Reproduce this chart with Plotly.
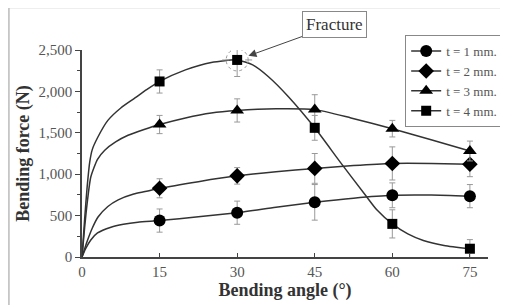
import plotly.graph_objects as go

# Measured data points (bending angle in degrees, force in N)
angles = [15, 30, 45, 60, 75]
series_names = ["t = 1 mm.", "t = 2 mm.", "t = 3 mm.", "t = 4 mm."]
force_t1 = [440, 535, 660, 745, 735]
force_t2 = [830, 980, 1070, 1130, 1120]
force_t3 = [1600, 1770, 1780, 1550, 1280]
force_t4 = [2120, 2380, 1560, 400, 100]
err_t1 = [140, 140, 215, 150, 140]
err_t2 = [115, 100, 180, 200, 150]
err_t3 = [110, 140, 180, 100, 120]
err_t4 = [140, 200, 150, 170, 110]

# Fitted curves
curve_x_t1 = [0, 0.7, 1.7, 3, 5.6, 8, 10.8, 15, 22.5, 30, 37.5, 45, 52.5, 60, 67.5, 75]
curve_y_t1 = [0, 100, 205, 290, 360, 395, 420, 440, 485, 535, 600, 660, 710, 745, 748, 735]
curve_x_t2 = [0, 1, 2, 3.1, 5, 7, 10, 12.2, 15, 22.5, 30, 37.5, 45, 52.5, 60, 67.5, 75]
curve_y_t2 = [0, 190, 350, 483, 610, 690, 760, 790, 830, 910, 980, 1030, 1070, 1105, 1130, 1130, 1120]
curve_x_t3 = [0, 0.5, 1, 1.7, 3, 4.4, 6.5, 8.9, 12, 15, 20, 25, 30, 37.5, 45, 52, 60, 67.5, 75]
curve_y_t3 = [0, 350, 650, 966, 1180, 1290, 1390, 1470, 1540, 1600, 1680, 1740, 1770, 1790, 1780, 1680, 1550, 1415, 1280]
curve_x_t4 = [0, 0.5, 1, 1.5, 2, 3, 5, 7.5, 10, 12.5, 15, 20, 25, 30, 33, 36, 40, 45, 50, 55, 57, 60, 63, 66, 70, 75]
curve_y_t4 = [0, 450, 850, 1150, 1300, 1440, 1650, 1800, 1910, 2020, 2120, 2260, 2350, 2380, 2320, 2180, 1930, 1560, 1140, 730, 570, 400, 280, 200, 140, 100]

x_ticks = [0, 15, 30, 45, 60, 75]
y_ticks = [0, 500, 1000, 1500, 2000, 2500]

FONT = "Liberation Serif"
LINE = "#333333"

series = [
    (series_names[0], force_t1, err_t1, curve_x_t1, curve_y_t1, "circle", 12),
    (series_names[1], force_t2, err_t2, curve_x_t2, curve_y_t2, "diamond", 12),
    (series_names[2], force_t3, err_t3, curve_x_t3, curve_y_t3, "triangle-up", 12),
    (series_names[3], force_t4, err_t4, curve_x_t4, curve_y_t4, "square", 10),
]

fig = go.Figure()
for name, fy, ey, cx, cy, sym, sz in series:
    fig.add_trace(go.Scatter(
        x=cx, y=cy, mode="lines", line=dict(color=LINE, width=1.5, shape="spline", smoothing=0.6),
        showlegend=False, hoverinfo="skip"))
    fig.add_trace(go.Scatter(
        x=angles, y=fy, mode="markers",
        marker=dict(symbol=sym, size=sz, color="black"),
        error_y=dict(type="data", array=ey, visible=True, color="#999999", thickness=1, width=3),
        showlegend=False))
    fig.add_trace(go.Scatter(
        x=[None], y=[None], mode="lines+markers", name=name,
        line=dict(color=LINE, width=1.5),
        marker=dict(symbol=sym, size=sz, color="black")))

# Fracture marker: dashed circle and cross ticks
fig.add_shape(type="circle", xref="x", yref="y", xsizemode="pixel", ysizemode="pixel",
              xanchor=angles[1], yanchor=force_t4[1], x0=-11, x1=11, y0=-11, y1=11,
              line=dict(color="#999999", width=1, dash="dot"))
for a, b in [(-15, -8), (8, 15)]:
    fig.add_shape(type="line", xref="x", yref="y", xsizemode="pixel", ysizemode="pixel",
                  xanchor=angles[1], yanchor=force_t4[1], x0=a, x1=b, y0=0, y1=0,
                  line=dict(color="#999999", width=1))

fig.add_annotation(x=angles[1], y=force_t4[1], xref="x", yref="y",
                   text="Fracture", ax=97, ay=-35,
                   font=dict(family=FONT, size=17, color="#333"),
                   bordercolor="#888", borderwidth=1, borderpad=3, bgcolor="white",
                   showarrow=True, arrowhead=2, arrowsize=1.6, arrowwidth=1,
                   arrowcolor="#444", standoff=12)

# outer frame
fig.add_shape(type="rect", xref="paper", yref="paper", x0=-0.18, x1=1.04, y0=-0.3, y1=1.205,
              line=dict(color="#bbbbbb", width=1.5), layer="below")

fig.update_layout(
    width=500, height=297,
    margin=dict(l=74, r=20, t=42, b=48, autoexpand=False),
    paper_bgcolor="white", plot_bgcolor="white",
    font=dict(family=FONT, size=15, color="#444"),
    legend=dict(x=0.796, y=1.072, xanchor="left", yanchor="top",
                bordercolor="#888", borderwidth=1, bgcolor="white",
                font=dict(family=FONT, size=13, color="#555"),
                tracegroupgap=0, itemwidth=30),
    xaxis=dict(range=[0, 78.5], tickvals=x_ticks, ticks="inside", ticklen=4,
               tickcolor="#444", showline=True, linecolor="#444", linewidth=1.5,
               showgrid=False, zeroline=False, automargin=False,
               tickfont=dict(family=FONT, size=15, color="#555"),
               title=dict(text="<b>Bending angle (°)</b>", standoff=4,
                          font=dict(family=FONT, size=18, color="#333"))),
    yaxis=dict(range=[0, 2500], tickvals=y_ticks, tickformat=",d", ticks="outside", ticklen=5,
               tickcolor="#444", showline=True, linecolor="#444", linewidth=1.5,
               showgrid=False, zeroline=False, automargin=False,
               minor=dict(dtick=250, ticks="outside", ticklen=3, tickcolor="#444"),
               tickfont=dict(family=FONT, size=15, color="#555"),
               title=dict(text="<b>Bending force (N)</b>", standoff=4,
                          font=dict(family=FONT, size=18, color="#333"))),
)

fig.write_html("out.html")
